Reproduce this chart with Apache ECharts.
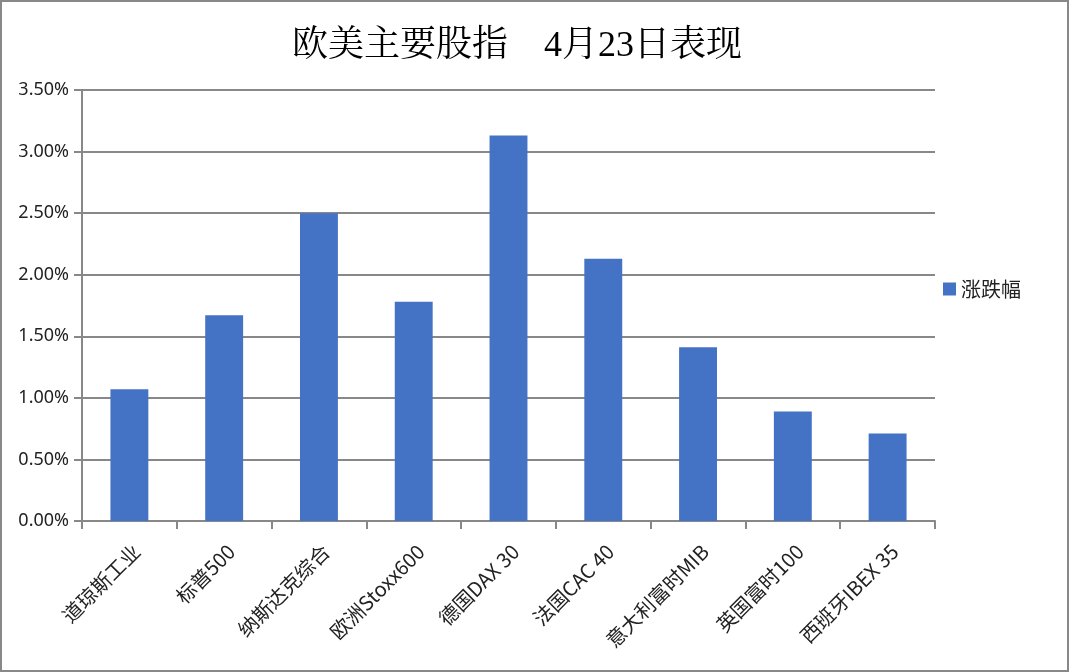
<!DOCTYPE html>
<html><head><meta charset="utf-8">
<script src="https://cdn.jsdelivr.net/npm/echarts@6/dist/echarts.min.js"></script>
<style>html,body{margin:0;padding:0;background:#fff}#c{width:1069px;height:672px;box-sizing:border-box;border:2px solid #888}</style>
</head><body><div id="c"></div>
<script>
const categories = ['道琼斯工业','标普500','纳斯达克综合','欧洲Stoxx600','德国DAX 30','法国CAC 40','意大利富时MIB','英国富时100','西班牙IBEX 35'];
const values = [1.07, 1.67, 2.50, 1.78, 3.13, 2.13, 1.41, 0.89, 0.71];
const seriesName = '涨跌幅';
const titleText = '欧美主要股指　4月23日表现';

const chart = echarts.init(document.getElementById('c'));
chart.setOption({
  animation: false,
  title: { text: titleText, left: 285, top: 22,
    textStyle: { fontFamily: '"Liberation Serif","Noto Serif CJK SC","Noto Sans CJK SC",serif', fontSize: 36, fontWeight: 'normal', color: '#000' } },
  legend: { orient: 'vertical', left: 936, top: 272, itemWidth: 13, itemHeight: 13, itemGap: 10,
    icon: 'rect', textStyle: { fontFamily: '"Noto Sans CJK SC"', fontSize: 20, color: '#222' }, data: [seriesName] },
  grid: { left: 80, right: 132, top: 88, bottom: 149 },
  xAxis: { type: 'category', data: categories,
    axisLine: { lineStyle: { color: '#888', width: 2 } },
    axisTick: { show: true, length: 8, lineStyle: { color: '#888', width: 2 }, alignWithLabel: false },
    axisLabel: { rotate: 45, interval: 0, margin: 20, verticalAlign: 'top', fontFamily: '"Noto Sans CJK SC"', fontSize: 20, color: '#222' } },
  yAxis: { type: 'value', min: 0, max: 3.5, interval: 0.5,
    axisLine: { show: true, lineStyle: { color: '#888', width: 2 } },
    axisTick: { show: true, length: 8, lineStyle: { color: '#888', width: 2 } },
    splitLine: { lineStyle: { color: '#888', width: 2 } },
    axisLabel: { margin: 13, fontFamily: '"Noto Sans","Open Sans",sans-serif', fontSize: 18, color: '#222',
      formatter: v => v.toFixed(2) + '%' } },
  series: [{ name: seriesName, type: 'bar', data: values, barWidth: '40%',
    itemStyle: { color: '#4472C4' } }]
});
</script></body></html>
